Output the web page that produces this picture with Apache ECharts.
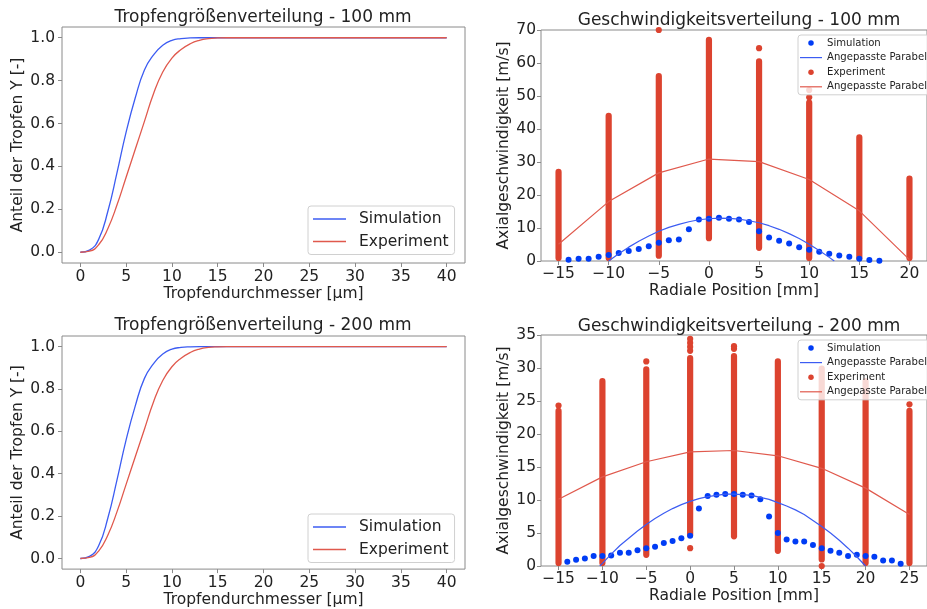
<!DOCTYPE html>
<html>
<head>
<meta charset="utf-8">
<script src="https://cdn.jsdelivr.net/npm/echarts@6/dist/echarts.min.js"></script>
<style>
  html, body { margin: 0; padding: 0; background: #fff; }
  #chart { width: 927px; height: 609px; }
</style>
</head>
<body>
<div id="chart"></div>
<script>
// Tropfengrößenverteilung (kumulativ), [Durchmesser µm, Anteil]
const cdfSim100 = [[0, 0], [1, 0.01], [2, 0.06], [3, 0.19], [4, 0.37], [5, 0.56], [6, 0.72], [7, 0.85], [8, 0.92], [9, 0.965], [10, 0.988], [11, 0.996], [12, 0.999], [13, 1], [15, 1], [40, 1]];
const cdfExp100 = [[0, 0], [1, 0.005], [2, 0.035], [3, 0.11], [4, 0.22], [5, 0.35], [6, 0.48], [7, 0.61], [8, 0.74], [9, 0.84], [10, 0.905], [11, 0.945], [12, 0.972], [13, 0.988], [14, 0.996], [15, 0.999], [16, 1], [40, 1]];
const cdfSim200 = [[0, 0], [1, 0.01], [2, 0.06], [3, 0.19], [4, 0.37], [5, 0.56], [6, 0.72], [7, 0.85], [8, 0.92], [9, 0.965], [10, 0.988], [11, 0.996], [12, 0.999], [13, 1], [15, 1], [40, 1]];
const cdfExp200 = [[0, 0], [1, 0.005], [2, 0.035], [3, 0.11], [4, 0.22], [5, 0.35], [6, 0.48], [7, 0.61], [8, 0.74], [9, 0.84], [10, 0.905], [11, 0.945], [12, 0.972], [13, 0.988], [14, 0.996], [15, 0.999], [16, 1], [40, 1]];

// Geschwindigkeit 100 mm, [radiale Position mm, m/s]
const simPts100 = [[-14, 0.4], [-13, 0.7], [-12, 0.7], [-11, 1.3], [-10, 1.8], [-9, 2.4], [-8, 3.0], [-7, 3.6], [-6, 4.5], [-5, 5.5], [-4, 6.3], [-3, 6.5], [-2, 9.6], [-1, 12.6], [0, 12.8], [1, 13.1], [2, 12.8], [3, 12.6], [4, 11.8], [5, 9.0], [6, 7.1], [7, 6.1], [8, 5.3], [9, 4.2], [10, 3.4], [11, 2.8], [12, 2.2], [13, 1.7], [14, 1.3], [15, 0.7], [16, 0.3], [17, 0.1]];
const simFit100 = [[-10, 0], [-9, 2.2], [-8, 4.2], [-7, 6.0], [-6, 7.6], [-5, 9.0], [-4, 10.2], [-3, 11.1], [-2, 11.9], [-1, 12.5], [0, 12.8], [1, 13.0], [2, 12.9], [3, 12.7], [4, 12.2], [5, 11.6], [6, 10.7], [7, 9.6], [8, 8.3], [9, 6.8], [10, 5.1], [11, 3.2], [12, 1.1], [12.5, 0]];
const expCols100 = [[-15, 0, 27], [-10, 0, 44], [-5, 1.6, 56], [0, 6.9, 67], [5, 4.0, 60.5], [10, 0, 48], [15, 0, 37.5], [20, 0, 25]];
const expPts100 = [[-5, 70], [5, 64.5], [10, 49.6], [10, 51.8]];
const expFit100 = [[-15, 5.1], [-10, 18.0], [-5, 26.7], [0, 30.9], [5, 30.1], [10, 24.7], [15, 15.2], [20, 0.4]];

// Geschwindigkeit 200 mm
const simPts200 = [[-14, 0.65], [-13, 0.95], [-12, 1.15], [-11, 1.5], [-10, 1.5], [-9, 1.6], [-8, 2.0], [-7, 2.0], [-6, 2.4], [-5, 2.7], [-4, 2.9], [-3, 3.5], [-2, 3.8], [-1, 4.2], [0, 4.6], [1, 8.7], [2, 10.6], [3, 10.8], [4, 10.9], [5, 10.9], [6, 10.8], [7, 10.7], [8, 10.1], [9, 7.5], [10, 5.0], [11, 4.0], [12, 3.7], [13, 3.7], [14, 3.2], [15, 2.7], [16, 2.3], [17, 2.0], [18, 1.5], [19, 1.7], [20, 1.5], [21, 1.4], [22, 0.85], [23, 0.85], [24, 0.35]];
const simFit200 = [[-10.3, 0], [-10, 0.4], [-9, 1.8], [-8, 3.1], [-7, 4.2], [-6, 5.3], [-5, 6.3], [-4, 7.2], [-3, 8.0], [-2, 8.7], [-1, 9.3], [0, 9.8], [1, 10.2], [2, 10.5], [3, 10.7], [4, 10.9], [5, 10.9], [6, 10.8], [7, 10.7], [8, 10.4], [9, 10.1], [10, 9.6], [11, 9.1], [12, 8.5], [13, 7.8], [14, 6.9], [15, 6.0], [16, 5.0], [17, 3.9], [18, 2.7], [19, 1.4], [20, 0]];
const expCols200 = [[-15, 0, 23.5], [-10, 0, 28], [-5, 1.7, 29.8], [0, 4.7, 31.5], [5, 4.5, 31.8], [10, 2.3, 31], [15, 1.0, 29.9], [20, 0, 28], [25, 0, 23.5]];
const expPts200 = [[-15, 24.3], [-5, 31], [0, 2.7], [0, 32.6], [0, 33.2], [0, 33.8], [0, 34.4], [5, 32.9], [5, 33.3], [15, 0], [25, 24.5]];
const expFit200 = [[-15, 10.1], [-10, 13.5], [-5, 15.8], [0, 17.3], [5, 17.5], [10, 16.7], [15, 14.8], [20, 11.8], [25, 7.8]];

const cdfTicksX = [0, 5, 10, 15, 20, 25, 30, 35, 40];
const cdfTicksY = [0, 0.2, 0.4, 0.6, 0.8, 1.0];
const posTicks100 = [-15, -10, -5, 0, 5, 10, 15, 20];
const posTicks200 = [-15, -10, -5, 0, 5, 10, 15, 20, 25];

const lineBlue = "#3c5cf2";
const lineRed = "#e0594d";
const dotBlue = "#003cf5";
const dotRed = "#dc432f";
const frame = "#8a8a8a";
const ink = "#222";
const font = "DejaVu Sans";

const minus = v => String(v).replace("-", "\u2212");

function valueAxis(gridIndex, min, max, opts) {
  return Object.assign({
    type: "value",
    gridIndex: gridIndex,
    min: min,
    max: max,
    splitLine: { show: false },
    axisLine: { show: false, onZero: false },
    axisTick: { show: true, length: 4, lineStyle: { color: frame } },
    axisLabel: { color: ink, fontSize: 15.5, fontFamily: font, margin: 6 },
    nameLocation: "middle",
    nameTextStyle: { color: ink, fontSize: 15.5, fontFamily: font }
  }, opts);
}

function cdfXAxis(gridIndex) {
  return valueAxis(gridIndex, -2, 42, {
    name: "Tropfendurchmesser [µm]",
    nameGap: 21,
    axisTick: { show: true, length: 4, lineStyle: { color: frame }, customValues: cdfTicksX },
    axisLabel: { color: ink, fontSize: 15.5, fontFamily: font, margin: 6, customValues: cdfTicksX }
  });
}

function cdfYAxis(gridIndex) {
  return valueAxis(gridIndex, -0.05, 1.05, {
    name: "Anteil der Tropfen Y [-]",
    nameGap: 33,
    axisTick: { show: true, length: 4, lineStyle: { color: frame }, customValues: cdfTicksY },
    axisLabel: { color: ink, fontSize: 15.5, fontFamily: font, margin: 7, customValues: cdfTicksY, formatter: v => v.toFixed(1) }
  });
}

function posXAxis(gridIndex, min, max, ticks) {
  return valueAxis(gridIndex, min, max, {
    name: "Radiale Position [mm]",
    nameGap: 19,
    axisTick: { show: true, length: 4, lineStyle: { color: frame }, customValues: ticks },
    axisLabel: { color: ink, fontSize: 15.5, fontFamily: font, margin: 5, customValues: ticks, formatter: minus }
  });
}

function velYAxis(gridIndex, max, interval) {
  return valueAxis(gridIndex, 0, max, {
    interval: interval,
    name: "Axialgeschwindigkeit [m/s]",
    nameGap: 27,
    axisLabel: { color: ink, fontSize: 15.5, fontFamily: font, margin: 5 }
  });
}

function renderColumn(params, api) {
  const x = api.value(0);
  const top = api.coord([x, api.value(2)]);
  const bottom = api.coord([x, api.value(1)]);
  const r = 3.1;
  const cs = params.coordSys;
  const shape = echarts.graphic.clipRectByRect(
    { x: top[0] - r, y: top[1] - r, width: 2 * r, height: bottom[1] - top[1] + 2 * r },
    { x: cs.x, y: cs.y, width: cs.width, height: cs.height }
  );
  if (!shape) return;
  shape.r = r;
  return { type: "rect", shape: shape, style: { fill: dotRed } };
}

function cdfSeries(idx, sim, exp, tag) {
  return [
    { name: "Simulation|" + tag, type: "line", xAxisIndex: idx, yAxisIndex: idx, data: sim, symbol: "none",
      smooth: 0.5, lineStyle: { color: lineBlue, width: 1.3 }, itemStyle: { color: lineBlue } },
    { name: "Experiment|" + tag, type: "line", xAxisIndex: idx, yAxisIndex: idx, data: exp, symbol: "none",
      smooth: 0.5, lineStyle: { color: lineRed, width: 1.3 }, itemStyle: { color: lineRed } }
  ];
}

function velSeries(idx, simPts, simFit, cols, pts, expFit, tag) {
  return [
    { name: "Simulation|" + tag, type: "scatter", xAxisIndex: idx, yAxisIndex: idx, data: simPts,
      symbolSize: 6, itemStyle: { color: dotBlue, opacity: 1 } },
    { name: "ParabelSim|" + tag, type: "line", xAxisIndex: idx, yAxisIndex: idx, data: simFit, symbol: "none",
      lineStyle: { color: lineBlue, width: 1.2 }, itemStyle: { color: lineBlue } },
    { name: "Experiment|" + tag, type: "scatter", xAxisIndex: idx, yAxisIndex: idx, data: pts,
      symbolSize: 6.2, itemStyle: { color: dotRed, opacity: 1 } },
    { name: "Experiment|" + tag, type: "custom", xAxisIndex: idx, yAxisIndex: idx, data: cols,
      encode: { x: 0, y: [1, 2] }, renderItem: renderColumn, itemStyle: { color: dotRed } },
    { name: "ParabelExp|" + tag, type: "line", xAxisIndex: idx, yAxisIndex: idx, data: expFit, symbol: "none",
      lineStyle: { color: lineRed, width: 1.2 }, itemStyle: { color: lineRed } }
  ];
}

const legendLabel = name => {
  const base = name.split("|")[0];
  return base.indexOf("Parabel") === 0 ? "Angepasste Parabel" : base;
};

const bigLineIcon = "path://M0,0L33,0L33,1.4L0,1.4Z";
const smallLineIcon = "path://M0,0L22,0L22,1.2L0,1.2Z";

function cdfLegend(tag, top) {
  return {
    orient: "vertical", left: 308, top: top,
    data: [
      { name: "Simulation|" + tag, icon: bigLineIcon },
      { name: "Experiment|" + tag, icon: bigLineIcon }
    ],
    formatter: legendLabel,
    itemWidth: 33, itemHeight: 14, itemGap: 6.5,
    padding: [5, 6, 5, 5],
    backgroundColor: "rgba(255,255,255,0.8)", borderColor: "#d0d0d0", borderWidth: 1, borderRadius: 3,
    textStyle: { color: ink, fontSize: 15.5, fontFamily: font, padding: [0, 0, 0, 8] },
    selectedMode: false
  };
}

function velLegend(tag, top) {
  return {
    orient: "vertical", left: 798, top: top,
    data: [
      { name: "Simulation|" + tag, icon: "circle" },
      { name: "ParabelSim|" + tag, icon: smallLineIcon },
      { name: "Experiment|" + tag, icon: "circle" },
      { name: "ParabelExp|" + tag, icon: smallLineIcon }
    ],
    formatter: legendLabel,
    itemWidth: 22, itemHeight: 5.5, itemGap: 4.6,
    padding: [3, 12, 3, 2],
    backgroundColor: "rgba(255,255,255,0.8)", borderColor: "#d0d0d0", borderWidth: 1, borderRadius: 3,
    textStyle: { color: ink, fontSize: 10.1, fontFamily: font },
    selectedMode: false
  };
}

function title(text, x, y) {
  return { text: text, left: x, top: y, textAlign: "center", padding: 0,
    textStyle: { color: ink, fontSize: 17, fontWeight: "normal", fontFamily: font } };
}

const chart = echarts.init(document.getElementById("chart"), null, { renderer: "canvas" });
chart.setOption({
  backgroundColor: "#fff",
  animation: false,
  textStyle: { fontFamily: font },
  title: [
    title("Tropfengrößenverteilung - 100 mm", 263, 9),
    title("Geschwindigkeitsverteilung - 100 mm", 739, 12),
    title("Tropfengrößenverteilung - 200 mm", 263, 317),
    title("Geschwindigkeitsverteilung - 200 mm", 739, 318)
  ],
  grid: [
    { left: 62, top: 27, width: 403, height: 236, show: true, borderColor: frame, borderWidth: 1 },
    { left: 541, top: 30, width: 395, height: 231, show: true, borderColor: frame, borderWidth: 1 },
    { left: 62, top: 336, width: 403, height: 236, show: true, borderColor: frame, borderWidth: 1 },
    { left: 541, top: 335, width: 395, height: 231, show: true, borderColor: frame, borderWidth: 1 }
  ],
  xAxis: [
    cdfXAxis(0),
    posXAxis(1, -16.75, 21.75, posTicks100),
    cdfXAxis(2),
    posXAxis(3, -17, 27, posTicks200)
  ],
  yAxis: [
    cdfYAxis(0),
    velYAxis(1, 70, 10),
    cdfYAxis(2),
    velYAxis(3, 35, 5)
  ],
  legend: [
    cdfLegend("a", 206),
    velLegend("b", 35),
    cdfLegend("c", 514),
    velLegend("d", 340)
  ],
  series: [].concat(
    cdfSeries(0, cdfSim100, cdfExp100, "a"),
    velSeries(1, simPts100, simFit100, expCols100, expPts100, expFit100, "b"),
    cdfSeries(2, cdfSim200, cdfExp200, "c"),
    velSeries(3, simPts200, simFit200, expCols200, expPts200, expFit200, "d")
  )
});
</script>
</body>
</html>
